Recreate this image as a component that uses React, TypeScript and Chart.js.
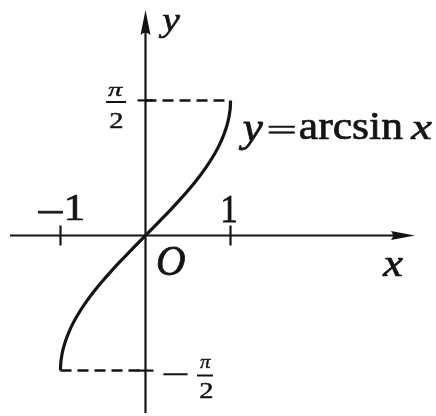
import React, { useEffect, useRef } from "react";
import { Chart, registerables } from "chart.js";

Chart.register(...registerables);

const HALF_PI = 1.5708;

// y = arcsin x (x in [-1, 1])
const CURVE_X = [
  -1, -0.999, -0.99, -0.97, -0.94, -0.9, -0.85, -0.8, -0.7, -0.6, -0.5, -0.4, -0.3, -0.2, -0.1,
  0, 0.1, 0.2, 0.3, 0.4, 0.5, 0.6, 0.7, 0.8, 0.85, 0.9, 0.94, 0.97, 0.99, 0.999, 1,
];
const CURVE_Y = [
  -1.5708, -1.5261, -1.4293, -1.3252, -1.2226, -1.1198, -1.016, -0.9273, -0.7754, -0.6435, -0.5236,
  -0.4115, -0.3047, -0.2014, -0.1002, 0, 0.1002, 0.2014, 0.3047, 0.4115, 0.5236, 0.6435, 0.7754,
  0.9273, 1.016, 1.1198, 1.2226, 1.3252, 1.4293, 1.5261, 1.5708,
];

// dashed guides
const UPPER_GUIDE_X = [0, 1];
const UPPER_GUIDE_Y = [HALF_PI, HALF_PI];
const LOWER_GUIDE_X = [-1, 0];
const LOWER_GUIDE_Y = [-HALF_PI, -HALF_PI];

// tick positions
const X_TICKS = [-1, 1];
const Y_TICKS = [-HALF_PI, HALF_PI];

// view window / axis extents (data units)
const VIEW_X = [-1.7118, 3.4176];
const VIEW_Y = [-2.0988, 2.7384];
const AXIS_X = [-1.594, 3.17];
const AXIS_Y = [-2.064, 2.622];

const INK = "#141414";
const SERIF = '"Liberation Serif", "Times New Roman", serif';
const ROMAN = `38px ${SERIF}`;
const ITALIC = `italic 38px ${SERIF}`;

function fitBox(
  ctx: CanvasRenderingContext2D,
  text: string,
  font: string,
  left: number,
  top: number,
  right: number,
  bottom: number
) {
  ctx.save();
  ctx.font = font;
  ctx.textAlign = "left";
  ctx.textBaseline = "alphabetic";
  const m = ctx.measureText(text);
  const w = m.actualBoundingBoxLeft + m.actualBoundingBoxRight;
  const h = m.actualBoundingBoxAscent + m.actualBoundingBoxDescent;
  ctx.translate(left, top);
  ctx.scale((right - left) / w, (bottom - top) / h);
  ctx.fillStyle = INK;
  ctx.strokeStyle = INK;
  ctx.lineWidth = 0.7;
  ctx.lineJoin = "round";
  ctx.fillText(text, m.actualBoundingBoxLeft, m.actualBoundingBoxAscent);
  ctx.strokeText(text, m.actualBoundingBoxLeft, m.actualBoundingBoxAscent);
  ctx.restore();
}

const toPoints = (xs: number[], ys: number[]) => xs.map((x, i) => ({ x, y: ys[i] }));

const axesPlugin = {
  id: "axes",
  beforeDatasetsDraw(chart: any) {
    const { ctx } = chart;
    const sx = chart.scales.x;
    const sy = chart.scales.y;
    const ox = sx.getPixelForValue(0);
    const oy = sy.getPixelForValue(0);
    ctx.save();
    ctx.strokeStyle = INK;
    ctx.fillStyle = INK;
    ctx.lineWidth = 2.2;
    ctx.lineCap = "butt";

    // x axis
    const xl = sx.getPixelForValue(AXIS_X[0]);
    const xr = sx.getPixelForValue(AXIS_X[1]);
    ctx.beginPath();
    ctx.moveTo(xl, oy);
    ctx.lineTo(xr - 10, oy);
    ctx.stroke();
    ctx.beginPath();
    ctx.moveTo(xr, oy);
    ctx.lineTo(xr - 24, oy - 4.5);
    ctx.quadraticCurveTo(xr - 20, oy, xr - 24, oy + 4.5);
    ctx.closePath();
    ctx.fill();

    // y axis
    const yb = sy.getPixelForValue(AXIS_Y[0]);
    const yt = sy.getPixelForValue(AXIS_Y[1]);
    ctx.beginPath();
    ctx.moveTo(ox, yb);
    ctx.lineTo(ox, yt + 10);
    ctx.stroke();
    ctx.beginPath();
    ctx.moveTo(ox, yt);
    ctx.lineTo(ox - 5, yt + 25);
    ctx.quadraticCurveTo(ox, yt + 20, ox + 5, yt + 25);
    ctx.closePath();
    ctx.fill();

    // ticks
    X_TICKS.forEach((t) => {
      const px = sx.getPixelForValue(t);
      ctx.beginPath();
      ctx.moveTo(px, oy - 10);
      ctx.lineTo(px, oy + 10);
      ctx.stroke();
    });
    Y_TICKS.forEach((t) => {
      const py = sy.getPixelForValue(t);
      ctx.beginPath();
      ctx.moveTo(ox - 8, py);
      ctx.lineTo(ox + 8, py);
      ctx.stroke();
    });
    ctx.restore();
  },
  afterDraw(chart: any) {
    const { ctx } = chart;
    // axis names
    fitBox(ctx, "y", ITALIC, 158, 15, 180, 38);
    fitBox(ctx, "x", ITALIC, 382, 258, 403, 276);
    fitBox(ctx, "O", ITALIC, 157, 247, 185, 275);
    // tick labels
    fitBox(ctx, "1", ROMAN, 223, 195, 236, 222);
    fitBox(ctx, "\u2212", ROMAN, 37, 210.5, 63, 213.5);
    fitBox(ctx, "1", ROMAN, 67, 195, 83, 220);
    // pi/2
    fitBox(ctx, "\u03c0", ITALIC, 108, 87, 123, 96);
    fitBox(ctx, "2", ROMAN, 110, 113, 122, 128);
    // -pi/2
    fitBox(ctx, "\u2212", ROMAN, 163, 373, 188, 375.5);
    fitBox(ctx, "\u03c0", ITALIC, 200, 359, 211, 368);
    fitBox(ctx, "2", ROMAN, 200, 383, 212, 398);
    // fraction bars
    ctx.save();
    ctx.strokeStyle = INK;
    ctx.lineWidth = 2;
    ctx.beginPath();
    ctx.moveTo(106, 102);
    ctx.lineTo(126, 102);
    ctx.moveTo(197, 375.5);
    ctx.lineTo(213, 375.5);
    ctx.stroke();
    ctx.restore();
    // curve label
    fitBox(ctx, "y", ITALIC, 238, 122, 263, 150);
    fitBox(ctx, "=", ROMAN, 268, 126, 295, 134);
    fitBox(ctx, "arcsin", ROMAN, 300, 112, 403, 138.5);
    fitBox(ctx, "x", ITALIC, 410, 122, 432, 138.5);
  },
};

export default function App() {
  const ref = useRef<HTMLCanvasElement | null>(null);
  useEffect(() => {
    document.body.style.margin = "0";
    if (!ref.current) return;
    const chart = new Chart(ref.current, {
      type: "scatter",
      data: {
        datasets: [
          {
            data: toPoints(CURVE_X, CURVE_Y),
            showLine: true,
            borderColor: INK,
            borderWidth: 3.2,
            pointRadius: 0,
            cubicInterpolationMode: "monotone",
            fill: false,
            clip: false,
          } as any,
          {
            data: toPoints(UPPER_GUIDE_X, UPPER_GUIDE_Y),
            showLine: true,
            borderColor: INK,
            borderWidth: 2.5,
            borderDash: [11, 6],
            pointRadius: 0,
            clip: false,
          } as any,
          {
            data: toPoints(LOWER_GUIDE_X, LOWER_GUIDE_Y),
            showLine: true,
            borderColor: INK,
            borderWidth: 2.5,
            borderDash: [11, 6],
            pointRadius: 0,
            clip: false,
          } as any,
        ],
      },
      options: {
        responsive: false,
        animation: false,
        events: [],
        layout: { padding: 0 },
        plugins: { legend: { display: false }, tooltip: { enabled: false } },
        scales: {
          x: { type: "linear", display: false, min: VIEW_X[0], max: VIEW_X[1] },
          y: { type: "linear", display: false, min: VIEW_Y[0], max: VIEW_Y[1] },
        },
      },
      plugins: [axesPlugin],
    });
    return () => chart.destroy();
  }, []);
  return (
    <div style={{ position: "absolute", left: 0, top: 0, width: 436, height: 416, background: "#fff" }}>
      <canvas ref={ref} width={436} height={416} style={{ display: "block" }} />
    </div>
  );
}
